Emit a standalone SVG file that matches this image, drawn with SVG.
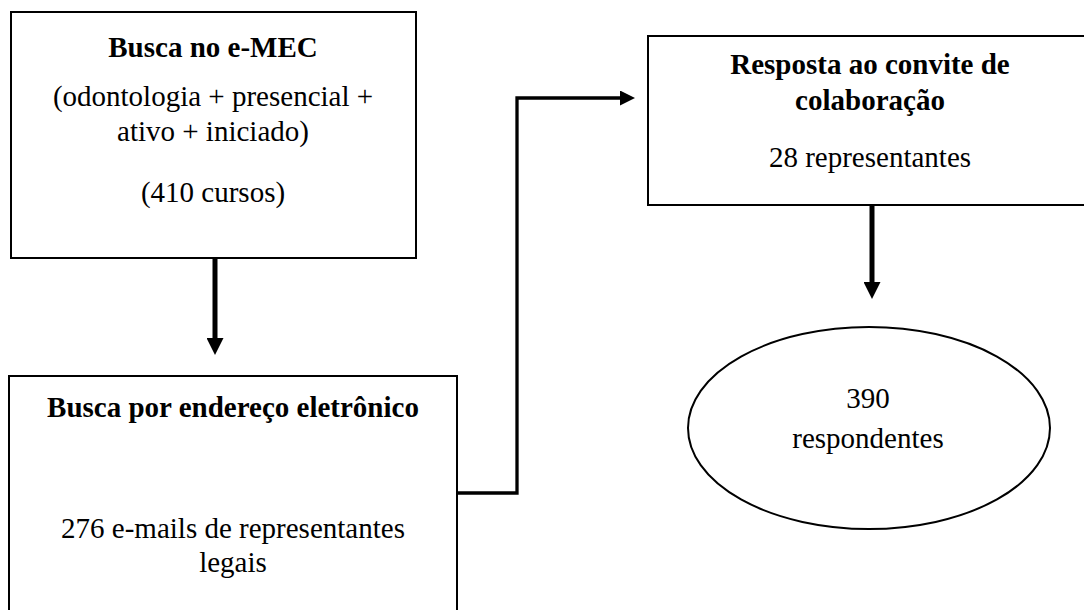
<svg xmlns="http://www.w3.org/2000/svg" width="1084" height="610" viewBox="0 0 1084 610">
<style>
  .box { fill: #fff; stroke: #000; stroke-width: 2; }
  .t { font-family: 'Liberation Serif', 'Times New Roman', Times, serif; font-size: 29px; fill: #000; text-anchor: middle; }
  .b { font-weight: bold; }
  .thick { fill: none; stroke: #000; stroke-width: 5; }
  .thin { fill: none; stroke: #000; stroke-width: 3.3; stroke-linejoin: miter; }
</style>
<defs>
  <marker id="headL" markerUnits="userSpaceOnUse" markerWidth="17" markerHeight="17" refX="0" refY="8.5" orient="auto">
    <path d="M0,0 L17,8.5 L0,17 z" fill="#000"/>
  </marker>
  <marker id="headS" markerUnits="userSpaceOnUse" markerWidth="15" markerHeight="15" refX="0" refY="7.5" orient="auto">
    <path d="M0,0 L15,7.5 L0,15 z" fill="#000"/>
  </marker>
</defs>
<rect width="1084" height="610" fill="#fff"/>

<g id="connectors">
  <line class="thick" x1="215" y1="258" x2="215" y2="338" marker-end="url(#headL)"/>
  <polyline class="thin" points="457,493 517,493 517,98 620,98" marker-end="url(#headS)"/>
  <line class="thick" x1="872" y1="205" x2="872" y2="282" marker-end="url(#headL)"/>
</g>

<g id="node-emec">
  <rect class="box" x="11" y="12" width="405" height="246"/>
  <text class="t b" x="213" y="57">Busca no e-MEC</text>
  <text class="t" x="213" y="106">(odontologia + presencial +</text>
  <text class="t" x="213" y="141">ativo + iniciado)</text>
  <text class="t" x="213" y="202">(410 cursos)</text>
</g>

<g id="node-email">
  <rect class="box" x="9" y="376" width="448" height="250"/>
  <text class="t b" x="233" y="417">Busca por endereço eletrônico</text>
  <text class="t" x="233" y="538">276 e-mails de representantes</text>
  <text class="t" x="233" y="572">legais</text>
</g>

<g id="node-resposta">
  <rect class="box" x="648" y="36" width="446" height="169"/>
  <text class="t b" x="870" y="74">Resposta ao convite de</text>
  <text class="t b" x="870" y="110">colaboração</text>
  <text class="t" x="870" y="167">28 representantes</text>
</g>

<g id="node-respondentes">
  <ellipse class="box" cx="869" cy="428" rx="181" ry="101"/>
  <text class="t" x="868" y="408">390</text>
  <text class="t" x="868" y="448">respondentes</text>
</g>
</svg>
